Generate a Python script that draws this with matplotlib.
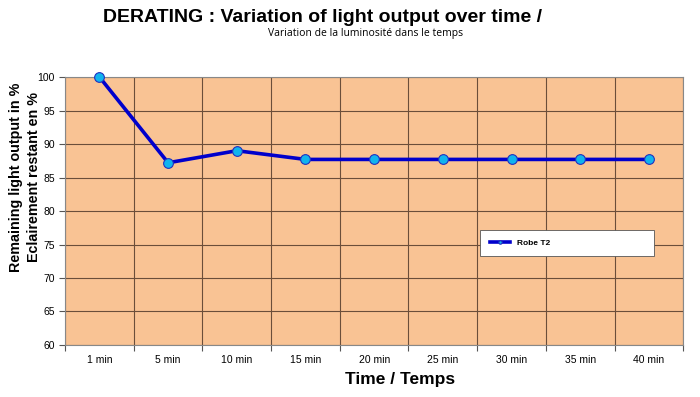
import matplotlib
matplotlib.use('Agg')
import matplotlib.pyplot as plt
import numpy as np

# data
times = ['1 min', '5 min', '10 min', '15 min', '20 min', '25 min', '30 min', '35 min', '40 min']
light_output = [100, 87.2, 89.0, 87.7, 87.7, 87.7, 87.7, 87.7, 87.7]
series_name = 'Robe T2'
y_ticks = [60, 65, 70, 75, 80, 85, 90, 95, 100]

plt.rcParams['font.family'] = ['Liberation Sans', 'DejaVu Sans']

fig = plt.figure(figsize=(7, 3.97), dpi=100)
ax = fig.add_axes([0.093, 0.131, 0.883, 0.675])
ax.set_facecolor('#F9C394')

x = np.arange(len(times))
ax.plot(x, light_output, color='#0000CC', lw=2.6, marker='o', markersize=7,
        markerfacecolor='#10B4EE', markeredgecolor='#2030C0', markeredgewidth=0.8,
        label=series_name, zorder=3, clip_on=False)

ax.set_xlim(-0.5, len(times) - 0.5)
ax.set_ylim(60, 100)

# gridlines on category boundaries, labels at category centres
ax.set_xticks(np.arange(len(times) + 1) - 0.5)
ax.set_xticklabels([])
ax.set_xticks(x, minor=True)
ax.set_xticklabels(times, minor=True, fontsize=7.5)
ax.tick_params(axis='x', which='minor', length=0, pad=7)
ax.tick_params(axis='x', which='major', length=4, color='#555555')
ax.set_yticks(y_ticks)
ax.tick_params(axis='y', labelsize=7.5, length=4, color='#555555')
ax.grid(True, which='major', color='#6B4E3A', lw=0.8)

for s in ax.spines.values():
    s.set_color('#888888')
    s.set_linewidth(0.8)

# two-line y label placed in figure coords so it stays inside the canvas
fig.text(0.036, 0.554, 'Remaining light output in %\nEclairement restant en %',
         rotation=90, ha='center', va='center', multialignment='center',
         fontsize=10.3, fontweight='bold', linespacing=1.35)
fig.text(0.571, 0.045, 'Time / Temps', ha='center', va='center',
         fontsize=12.5, fontweight='bold')

fig.text(0.461, 0.955, 'DERATING : Variation of light output over time /',
         ha='center', va='center', fontsize=14, fontweight='bold')
fig.text(0.522, 0.915, 'Variation de la luminosité dans le temps',
         ha='center', va='center', fontsize=7.5, family=['Open Sans', 'DejaVu Sans'])

leg = ax.legend(loc='lower left', bbox_to_anchor=(0.672, 0.332, 0.28, 0.108),
                mode='expand', prop={'weight': 'bold', 'size': 6},
                fancybox=False, framealpha=1, edgecolor='#555555',
                handlelength=2.5, borderaxespad=0, borderpad=1.1,
                markerscale=0.35)
leg.get_frame().set_linewidth(0.6)

plt.savefig('out.png', dpi=100, facecolor='white')
plt.close()
